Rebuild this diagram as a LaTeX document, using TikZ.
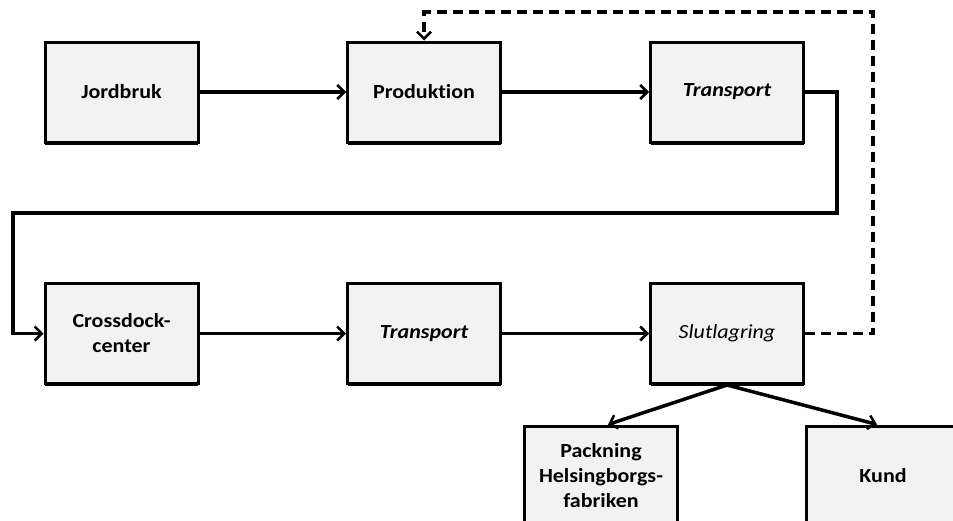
\documentclass[tikz,border=0pt]{standalone}
\usepackage{fontspec}
\setmainfont{Carlito}[FakeStretch=1.1,Ligatures=NoCommon]
\usetikzlibrary{arrows.meta,shadows}
\begin{document}
\begin{tikzpicture}[x=1pt,y=-1pt,
  box/.style={draw=black,line width=3pt,fill=boxgray,minimum width=153pt,
    minimum height=100pt,inner sep=0pt,align=center,
    font=\fontsize{20}{25}\selectfont\bfseries,
    drop shadow={shadow xshift=0pt,shadow yshift=-2.5pt,fill=black,opacity=1}},
  slanted/.style={font=\fontsize{20}{25}\selectfont\bfseries\itshape},
  lightslant/.style={font=\fontsize{20}{25}\selectfont\itshape},
  flow/.style={line width=3.5pt,-{Straight Barb[length=7pt,width=14pt,line width=2.5pt]}},
  feedback/.style={flow,dash pattern=on 10pt off 6pt}]
\definecolor{boxgray}{HTML}{F2F2F2}
\useasboundingbox (0,0) rectangle (953,520);

% upper chain
\node[box] (jord) at (121.5,92) {Jordbruk};
\node[box] (prod) at (424,92) {Produktion};
\node[box,slanted] (tr1) at (727,92) {Transport};

% lower chain
\node[box] (cross) at (121.5,333.5) {Crossdock-\\center};
\node[box,slanted] (tr2) at (424,333.5) {Transport};
\node[box,lightslant] (slut) at (727,333.5) {Slutlagring};

% final destinations
\node[box] (pack) at (601,476) {Packning\\Helsingborgs-\\fabriken};
\node[box] (kund) at (883,476) {Kund};

% return route between the rows
\coordinate (r1) at (837,213);
\coordinate (l1) at (13,213);
\coordinate (d1) at (873,12);

\draw[flow] (jord) -- (prod);
\draw[flow] (prod) -- (tr1);
\draw[flow] (tr1.east) -| (r1) -- (l1) |- (cross.west);
\draw[flow] (cross) -- (tr2);
\draw[flow] (tr2) -- (slut);
\draw[feedback] (slut.east) -| (d1) -| (prod.north);
\draw[flow] (slut.south) -- ([xshift=7pt]pack.north);
\draw[flow] (slut.south) -- ([xshift=-6pt]kund.north);
\end{tikzpicture}
\end{document}
